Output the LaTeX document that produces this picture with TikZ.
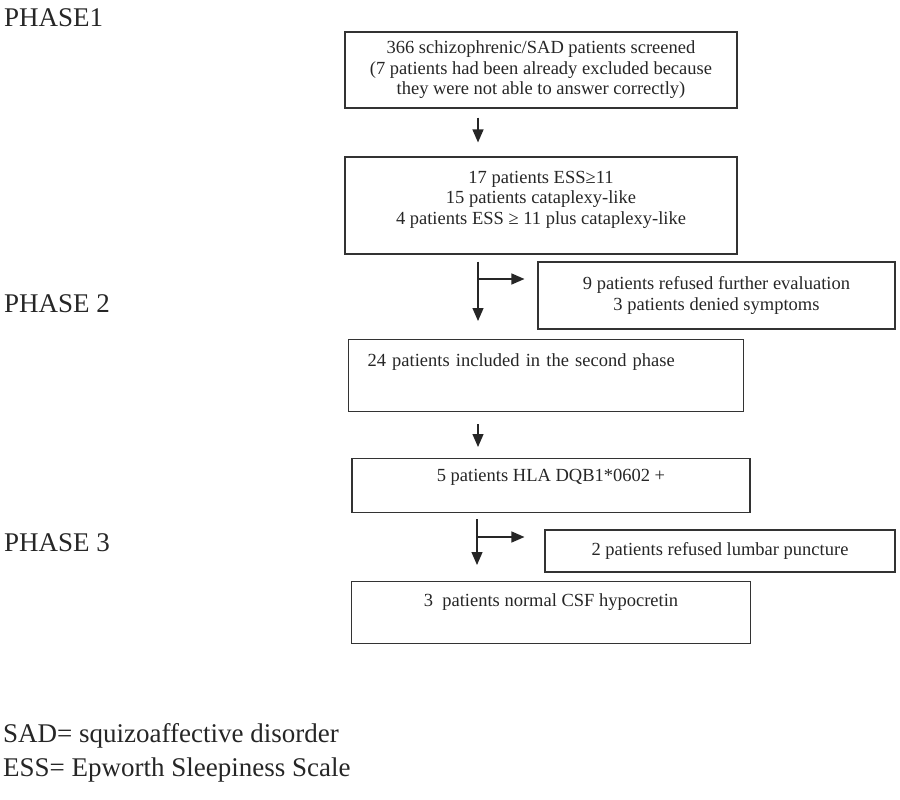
\documentclass[tikz,border=0pt]{standalone}
\usepackage{fontspec}
\setmainfont{Liberation Serif}
\usetikzlibrary{arrows.meta}

\begin{document}
\begin{tikzpicture}[x=1pt,y=-1pt,>={Triangle[length=13pt,width=11pt]},
        box/.style={draw=black!80,line width=1.1pt,rectangle,align=center,inner sep=0pt,
            font=\fontsize{18.5}{20.5}\selectfont,text=black!85},
        phase/.style={anchor=base west,inner sep=0pt,font=\fontsize{27}{32}\selectfont,text=black!85},
        flow/.style={->,line width=1.3pt,black!85}]

        \useasboundingbox (0,0) rectangle (900,800);

        % draw the phase labels and the footnotes
        \node[phase] (phase1) at (4,27) {PHASE1};
        \node[phase] (phase2) at (4,312) {PHASE 2};
        \node[phase] (phase3) at (4,551) {PHASE 3};
        \node[phase] (sadnote) at (3,742) {SAD= squizoaffective disorder};
        \node[phase] (essnote) at (3,776) {ESS= Epworth Sleepiness Scale};

        % draw the boxes of the main column
        \node[box,minimum width=392pt,minimum height=76pt] (screen) at (541,70)
            {366 schizophrenic/SAD patients screened\\
             (7 patients had been already excluded because\\
             they were not able to answer correctly)};
        \node[box,minimum width=392pt,minimum height=97pt,text depth=16pt] (ess) at (541,205.5)
            {17 patients ESS\char"2265 11\\
             15 patients cataplexy-like\\
             4 patients ESS \char"2265{} 11 plus cataplexy-like};
        \node[box,anchor=north west,align=left,text width=357pt,inner xsep=19pt,
            text height=27pt,text depth=45pt] (second) at (348,339)
            {24 patients included in the second phase};
        \node[box,anchor=north,minimum width=398pt,text height=23pt,text depth=31pt] (hla) at (551,458)
            {5 patients HLA DQB1*0602 +};
        \node[box,anchor=north,minimum width=399pt,text height=25pt,text depth=37pt] (csf) at (551,581)
            {3\ \ patients normal CSF hypocretin};

        % draw the boxes on the right
        \node[box,minimum width=357pt,minimum height=67pt] (refused) at (716.5,295.5)
            {9 patients refused further evaluation\\
             3 patients denied symptoms};
        \node[box,minimum width=350pt,minimum height=42pt] (lumbar) at (720,551)
            {2 patients refused lumbar puncture};

        % the arrows run down this line
        \coordinate (spine) at (478,0);
        \coordinate (fork1) at (478,279);
        \coordinate (fork2) at (477,537);

        % draw the arrows
        \draw[flow,shorten <=9pt,shorten >=14pt] (screen.south -| spine) -- (ess.north -| spine);
        \draw[flow,shorten <=7pt,shorten >=18pt] (ess.south -| spine) -- (second.north -| spine);
        \draw[flow,shorten >=13pt] (fork1) -- (fork1 -| refused.west);
        \draw[flow,shorten <=12pt,shorten >=11pt] (second.south -| spine) -- (hla.north -| spine);
        \draw[flow,shorten <=6pt,shorten >=16pt] (hla.south -| fork2) -- (csf.north -| fork2);
        \draw[flow,shorten >=20pt] (fork2) -- (fork2 -| lumbar.west);

\end{tikzpicture}
\end{document}
